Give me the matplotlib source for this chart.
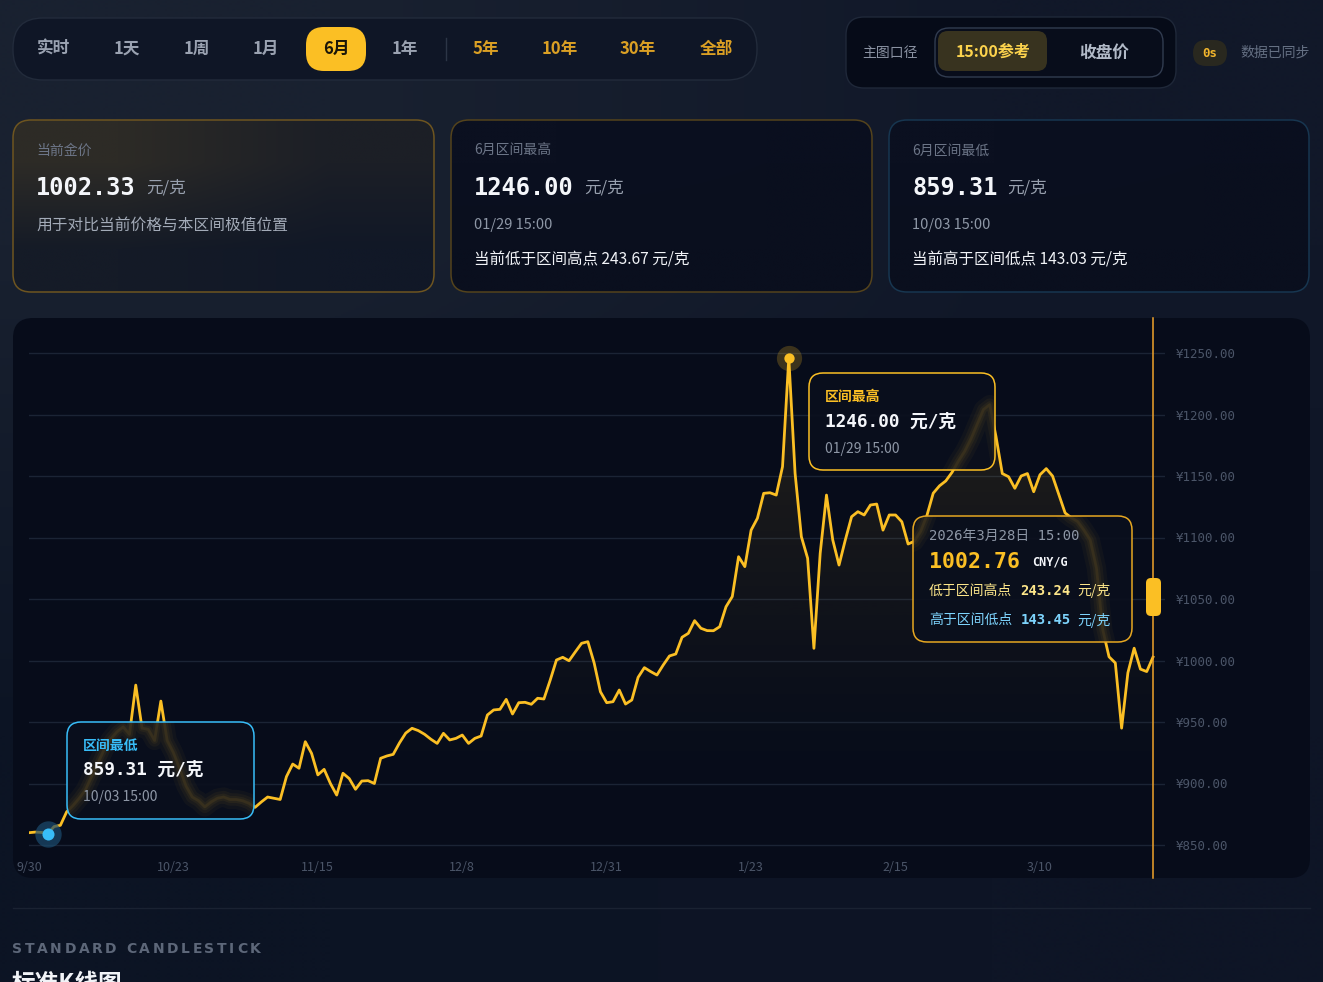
import numpy as np
import matplotlib
matplotlib.use("Agg")
import matplotlib.pyplot as plt
from matplotlib.patches import FancyBboxPatch, Polygon
from matplotlib.colors import to_rgb

W, H = 1323, 982
CJK = ["Noto Sans CJK SC", "DejaVu Sans"]
MONO = ["DejaVu Sans Mono", "Noto Sans CJK SC"]
plt.rcParams["font.family"] = CJK

# ---- data (daily 15:00 reference price, 9/30 -> 3/28) ----
prices = [
    860.0, 860.5, 860.2, 859.31, 865, 866, 877, 882, 888, 895,
    906, 917, 928, 936, 942, 946, 940, 980, 945, 944,
    935, 967, 935, 925, 912, 898, 889, 886, 881, 885,
    888, 889, 887, 887, 886, 884, 880.6, 885, 889, 888,
    887, 905.6, 915.8, 912.4, 934, 924.5, 907, 911.5, 900, 890.6,
    908.3, 904, 895.3, 902, 902.3, 900, 920.5, 922.4, 923.7, 933,
    941, 944.9, 943, 940, 936, 932.6, 940.8, 935.4, 936.7, 939.4,
    932.6, 936.7, 938.6, 955.7, 959.8, 960.3, 968.4, 956.5, 965.7, 966,
    964.4, 969.3, 968.7, 984, 1000.4, 1002.6, 999.8, 1007, 1014, 1015.3,
    998, 974.6, 965.7, 966.5, 976, 964.6, 967.9, 986.3, 994.2, 991,
    988.2, 996.3, 1003.7, 1005.3, 1018.9, 1022.1, 1032.4, 1026.2, 1024.3, 1024.2,
    1027.5, 1043.7, 1052, 1084.4, 1076.3, 1106, 1115.6, 1135.9, 1136.4, 1134.5,
    1157.6, 1246.0, 1152.2, 1100.7, 1083.1, 1009.9, 1087.2, 1134.5, 1098, 1077.6,
    1098, 1116.9, 1121, 1118.3, 1126.4, 1127.2, 1106, 1118.3, 1118.3, 1112.8,
    1094.7, 1097, 1105, 1118, 1136, 1142, 1146, 1153, 1162, 1170,
    1180, 1192, 1204, 1208, 1182, 1152, 1149.4, 1140, 1150, 1152,
    1137.2, 1151, 1156, 1150, 1135, 1120, 1116, 1113, 1106, 1098,
    1075, 1025, 1003, 998, 945, 990, 1010, 993, 991, 1002.76,
]
days = np.arange(len(prices))
tick_days = [0, 23, 46, 69, 92, 115, 138, 161]
tick_labels = ["9/30", "10/23", "11/15", "12/8", "12/31", "1/23", "2/15", "3/10"]
y_levels = [850, 900, 950, 1000, 1050, 1100, 1150, 1200, 1250]

periods = ["实时", "1天", "1周", "1月", "6月", "1年", "5年", "10年", "30年", "全部"]
active_period = "6月"
long_periods = ["5年", "10年", "30年", "全部"]

current_price = 1002.33
high_price, high_day, high_time = 1246.00, 121, "01/29 15:00"
low_price, low_day, low_time = 859.31, 3, "10/03 15:00"
below_high_card, above_low_card = 243.67, 143.03
tip_date = "2026年3月28日 15:00"
tip_price = 1002.76
tip_below_high, tip_above_low = 243.24, 143.45

GOLD = "#fbbf24"
BLUE = "#38bdf8"

fig = plt.figure(figsize=(W / 100, H / 100), dpi=100)
renderer = fig.canvas.get_renderer()


def pixel_axes(z):
    a = fig.add_axes([0, 0, 1, 1], zorder=z)
    a.set_xlim(0, W)
    a.set_ylim(H, 0)
    a.axis("off")
    a.patch.set_visible(False)
    return a


def rbox(a, x0, y0, x1, y1, r, fc="none", ec="none", lw=1.0, alpha=None, z=1):
    p = FancyBboxPatch((x0 + r, y0 + r), x1 - x0 - 2 * r, y1 - y0 - 2 * r,
                       boxstyle=f"round,pad={r}", fc=fc, ec=ec, lw=lw,
                       alpha=alpha, zorder=z)
    a.add_patch(p)
    return p


def grad_fill(a, x0, y0, x1, y1, corners, clip, z=1):
    # corners: top-left, top-right, bottom-left, bottom-right
    c = np.array([[to_rgb(corners[0]), to_rgb(corners[1])],
                  [to_rgb(corners[2]), to_rgb(corners[3])]])
    im = a.imshow(c, extent=[x0, x1, y1, y0], interpolation="bilinear",
                  aspect="auto", zorder=z)
    if clip is not None:
        im.set_clip_path(clip)
    return im


def run(a, x, y, parts, z=6):
    # draw text pieces side by side, measuring each one
    for s, kw, gap in parts:
        t = a.text(x, y, s, va="center", ha="left", zorder=z, **kw)
        x += t.get_window_extent(renderer).width + gap
    return x


# ---------------- background ----------------
bg = pixel_axes(0)
grad_fill(bg, 0, 0, W, H, ["#192130", "#111829", "#0c1424", "#0e1526"], None, z=0)
bg.set_xlim(0, W)
bg.set_ylim(H, 0)

# period selector
rbox(bg, 13, 18, 757, 80, 30, fc="#0f1626", ec="#222b3b", lw=1)
period_x = [54, 127, 197, 266, 336, 405, 486, 560, 638, 716]
for name, px in zip(periods, period_x):
    if name == active_period:
        rbox(bg, px - 30, 27, px + 30, 71, 18, fc=GOLD, z=2)
        col = "#1b1608"
    elif name in long_periods:
        col = "#dba024"
    else:
        col = "#9aa2b1"
    bg.text(px, 49, name, ha="center", va="center", fontsize=12, color=col,
            fontweight="bold", zorder=3)
bg.plot([446, 446], [38, 60], color="#2c3546", lw=1, zorder=2)

# price-basis switch
rbox(bg, 846, 17, 1176, 88, 18, fc="#060b18", ec="#1f2839", lw=1)
bg.text(890, 53, "主图口径", ha="center", va="center", fontsize=10, color="#8a92a2")
rbox(bg, 935, 28, 1163, 77, 14, fc="#080d1b", ec="#313c50", lw=1)
rbox(bg, 938, 31, 1047, 71, 10, fc="#38331f", z=2)
bg.text(993, 52, "15:00参考", ha="center", va="center", fontsize=11.5,
        color="#fcd34d", fontweight="bold", zorder=3)
bg.text(1104, 53, "收盘价", ha="center", va="center", fontsize=12,
        color="#b2bac8", fontweight="bold")
rbox(bg, 1193, 40, 1227, 66, 13, fc="#29281f")
bg.text(1210, 53, "0s", ha="center", va="center", fontsize=9, family=MONO,
        color="#f2b52c", fontweight="bold")
bg.text(1240, 53, "数据已同步", ha="left", va="center", fontsize=10,
        color="#657083", style="italic")

# summary cards
cards = [
    (13, 434, ["#2d2b26", "#1c1f26", "#151b27", "#111827"], "#6e5520"),
    (451, 872, ["#0b1020", "#0a0f1f", "#0a0f1e", "#0a0f1e"], "#54431c"),
    (889, 1309, ["#0b1020", "#0a0f1f", "#0a0f1e", "#0a0f1e"], "#173650"),
]
for x0, x1, cols, ec in cards:
    clip = rbox(bg, x0, 120, x1, 292, 18, fc="none", ec="none", z=1)
    grad_fill(bg, x0, 120, x1, 292, cols, clip, z=1)
    rbox(bg, x0, 120, x1, 292, 18, fc="none", ec=ec, lw=1.1, z=2)

card_titles = ["当前金价", "6月区间最高", "6月区间最低"]
card_values = [current_price, high_price, low_price]
card_x = [36, 474, 912]
for title, val, cx in zip(card_titles, card_values, card_x):
    bg.text(cx, 151, title, va="center", fontsize=10, color="#6c7587")
    run(bg, cx, 188, [(f"{val:.2f}", dict(fontsize=17, family=MONO, color="#f4f6fa",
                                            fontweight="bold"), 10),
                      ("元/克", dict(fontsize=12, color="#98a0ae"), 0)])
bg.text(36, 225, "用于对比当前价格与本区间极值位置", va="center", fontsize=11.3, color="#a3abb8")
bg.text(474, 225, high_time, va="center", fontsize=10.5, color="#8e97a6")
bg.text(912, 225, low_time, va="center", fontsize=10.5, color="#8e97a6")
bg.text(474, 260, f"当前低于区间高点 {below_high_card:.2f} 元/克", va="center",
        fontsize=11.2, color="#f1f3f7")
bg.text(912, 260, f"当前高于区间低点 {above_low_card:.2f} 元/克", va="center",
        fontsize=11.2, color="#f1f3f7")

# chart panel
rbox(bg, 13, 318, 1310, 878, 20, fc="#070c1a", z=1)

# footer
bg.plot([13, 1310], [908, 908], color="#1a2232", lw=1)
x = 12
for ch in "STANDARD CANDLESTICK":
    if ch == " ":
        x += 7
        continue
    t = bg.text(x, 949, ch, va="center", fontsize=10, color="#5d6779",
                fontweight="bold", family=["DejaVu Sans"])
    x += t.get_window_extent(renderer).width + 2.6
bg.text(12, 972, "标准K线图", va="top", fontsize=17, color="#f1f3f7", fontweight="bold")

# ---------------- price chart ----------------
L, R, T, B = 29, 1165, 318, 857
px_day = (1153 - 29) / (len(prices) - 1)
px_val = (845 - 353) / 400
ax = fig.add_axes([L / W, 1 - B / H, (R - L) / W, (B - T) / H], zorder=2)
ax.patch.set_visible(False)
for s in ax.spines.values():
    s.set_visible(False)

for v in y_levels:
    ax.axhline(v, color="#1b2435", lw=1, zorder=1)

# gradient area under the line
ybot = 850 - (B - 845) / px_val
area = Polygon(np.column_stack([np.r_[days, days[-1], 0], np.r_[prices, ybot, ybot]]),
               closed=True, fc="none", ec="none")
ax.add_patch(area)
g = np.zeros((200, 1, 4))
g[..., :3] = to_rgb(GOLD)
g[:, 0, 3] = np.linspace(0.0, 0.12, 200) ** 1.3 / 0.12 ** 0.3
im = ax.imshow(g, extent=[0, days[-1], 880, 1250], origin="lower", aspect="auto",
               interpolation="bilinear", zorder=2)
im.set_clip_path(area)
ax.set_xlim(0, (R - L) / px_day)
ax.set_ylim(ybot, 1250 + (353 - T) / px_val)

ax.plot(days, prices, color=GOLD, lw=2.0, solid_joinstyle="round", zorder=3)

# crosshair at the last point
ax.axvline(days[-1], ymin=-(878 - B) / (B - T), ymax=1, color="#f0a32a", lw=1.1,
           clip_on=False, zorder=3)

# extreme markers
ax.scatter([high_day], [high_price], s=330, color=GOLD, alpha=0.22, lw=0, zorder=4)
ax.scatter([high_day], [high_price], s=55, color=GOLD, lw=0, zorder=5)
ax.scatter([low_day], [low_price], s=360, color="#1b4c6f", alpha=0.7, lw=0, zorder=4)
ax.scatter([low_day], [low_price], s=75, color=BLUE, lw=0, zorder=5)

ax.set_xticks(tick_days, tick_labels)
ax.set_yticks(y_levels, [f"¥{v:.2f}" for v in y_levels])
ax.yaxis.tick_right()
ax.tick_params(axis="x", length=0, pad=3, labelsize=9, labelcolor="#4b5568")
ax.tick_params(axis="y", length=0, pad=8, labelsize=9, labelcolor="#4b5568")
for lab in ax.get_yticklabels():
    lab.set_family(["DejaVu Sans Mono"])

# ---------------- overlay: tooltips ----------------
top = pixel_axes(5)


def tip_box(x0, y0, x1, y1, ec):
    p = rbox(top, x0, y0, x1, y1, 14, fc="#0a0f1d", ec="none", alpha=0.92, z=2)
    # soft, blurred trace of the line behind the frosted box
    for lw, al in [(14, 0.035), (9, 0.045), (5, 0.05)]:
        glow, = top.plot(days, prices, color=GOLD, lw=lw, alpha=al,
                         transform=ax.transData, zorder=3, solid_capstyle="round")
        glow.set_clip_path(p)
    rbox(top, x0, y0, x1, y1, 14, fc="none", ec=ec, lw=1.1, z=4)


tip_box(809, 373, 995, 470, GOLD)
top.text(825, 397, "区间最高", va="center", fontsize=10, color=GOLD, fontweight="bold", zorder=6)
top.text(825, 422, f"{high_price:.2f} 元/克", va="center", fontsize=12.8, family=MONO,
         color="#f4f6fa", fontweight="bold", zorder=6)
top.text(825, 449, high_time, va="center", fontsize=10, color="#8e97a6", zorder=6)

tip_box(67, 722, 254, 819, BLUE)
top.text(83, 746, "区间最低", va="center", fontsize=10, color=BLUE, fontweight="bold", zorder=6)
top.text(83, 770, f"{low_price:.2f} 元/克", va="center", fontsize=12.8, family=MONO,
         color="#f4f6fa", fontweight="bold", zorder=6)
top.text(83, 797, low_time, va="center", fontsize=10, color="#8e97a6", zorder=6)

tip_box(913, 516, 1132, 642, "#e6a721")
top.text(929, 536, tip_date, va="center", fontsize=10, family=MONO, color="#8e97a6", zorder=6)
run(top, 929, 562, [(f"{tip_price:.2f}", dict(fontsize=15.5, family=MONO, color=GOLD,
                                              fontweight="bold"), 12),
                    ("CNY/G", dict(fontsize=8.5, family=MONO, color="#f4f6fa",
                                   fontweight="bold"), 0)])
run(top, 929, 591, [("低于区间高点", dict(fontsize=10, color="#fde68a"), 8),
                    (f"{tip_below_high:.2f}", dict(fontsize=10, family=MONO,
                                                   color="#fde68a", fontweight="bold"), 7),
                    ("元/克", dict(fontsize=10, color="#fde68a"), 0)])
run(top, 929, 620, [("高于区间低点", dict(fontsize=10, color="#7dd3fc"), 8),
                    (f"{tip_above_low:.2f}", dict(fontsize=10, family=MONO,
                                                  color="#7dd3fc", fontweight="bold"), 7),
                    ("元/克", dict(fontsize=10, color="#7dd3fc"), 0)])

# slider handle on the crosshair
rbox(top, 1146, 578, 1161, 616, 5, fc=GOLD, z=4)

fig.savefig("out.png", dpi=100)
